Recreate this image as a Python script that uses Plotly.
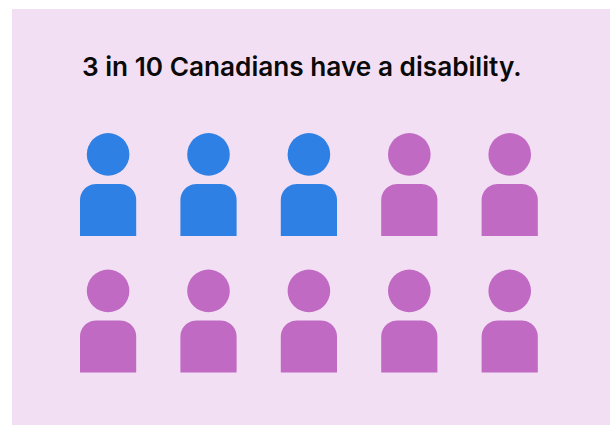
import math
import plotly.graph_objects as go

# Ten people, coloured by whether they have a disability
categories = ["Canadians with a disability", "Canadians without a disability"]
people = [3, 7]
colors = ["#2f80e4", "#c06ac4"]
title_text = "3 in 10 Canadians have a disability."

PER_ROW = 5
W, H = 610, 425
PANEL_L, PANEL_T = 12, 9
COL_PX, ROW_PX = 100.4, 136.5
HEAD_X_PX, HEAD_Y_PX = 108.1, 154.4
HEAD_D_PX = 42.6


def body_outline(col, row):
    """Shoulders and torso of one figure, in grid units (col, row)."""
    half_w = 28.1 / COL_PX
    top = 29.6 / ROW_PX
    bottom = 81.6 / ROW_PX
    rx = 16 / COL_PX
    ry = 16 / ROW_PX
    xs, ys = [col - half_w, col - half_w], [row + bottom, row + top + ry]
    for k in range(1, 13):
        a = k / 12 * math.pi / 2
        xs.append(col - half_w + rx * (1 - math.cos(a)))
        ys.append(row + top + ry * (1 - math.sin(a)))
    for k in range(0, 13):
        a = k / 12 * math.pi / 2
        xs.append(col + half_w - rx * (1 - math.sin(a)))
        ys.append(row + top + ry * (1 - math.cos(a)))
    xs += [col + half_w, col - half_w, None]
    ys += [row + bottom, row + bottom, None]
    return xs, ys


fig = go.Figure()
index = 0
for name, count, color in zip(categories, people, colors):
    cols, rows, body_x, body_y = [], [], [], []
    for _ in range(count):
        col, row = index % PER_ROW, index // PER_ROW
        cols.append(col)
        rows.append(row)
        bx, by = body_outline(col, row)
        body_x += bx
        body_y += by
        index += 1
    fig.add_trace(go.Scatter(
        x=body_x, y=body_y, mode="lines", fill="toself", fillcolor=color,
        line=dict(width=0, color=color, simplify=False), name=name, hoverinfo="name",
    ))
    fig.add_trace(go.Scatter(
        x=cols, y=rows, mode="markers", name=name, hoverinfo="name",
        marker=dict(symbol="circle", size=HEAD_D_PX, color=color, line=dict(width=0)),
    ))

fig.update_layout(
    width=W, height=H,
    margin=dict(l=PANEL_L, t=PANEL_T, r=0, b=0),
    paper_bgcolor="#ffffff",
    plot_bgcolor="#f3dff3",
    showlegend=False,
    xaxis=dict(
        range=[(PANEL_L - HEAD_X_PX) / COL_PX, (W - HEAD_X_PX) / COL_PX],
        visible=False, fixedrange=True,
    ),
    yaxis=dict(
        range=[(H - HEAD_Y_PX) / ROW_PX, (PANEL_T - HEAD_Y_PX) / ROW_PX],
        visible=False, fixedrange=True,
    ),
    annotations=[dict(
        text=title_text, xref="paper", yref="paper",
        x=(301.5 - PANEL_L) / (W - PANEL_L), y=1 - (67 - PANEL_T) / (H - PANEL_T),
        xanchor="center", yanchor="middle", showarrow=False,
        font=dict(family="Inter", size=26.2, color="#0a0a0a", weight=600),
    )],
)

fig.write_html("out.html", config={"displayModeBar": False})
